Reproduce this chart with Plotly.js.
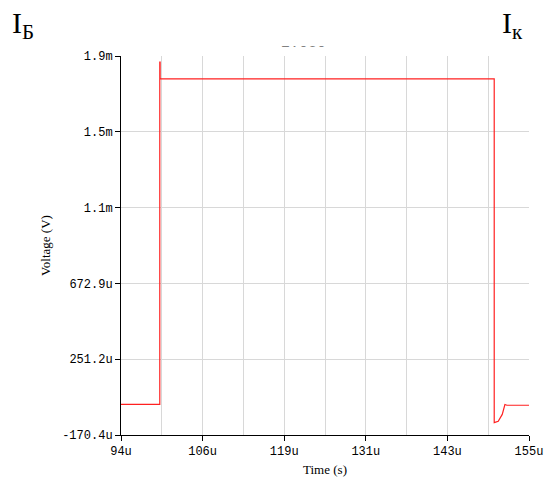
<!DOCTYPE html>
<html>
<head>
<meta charset="utf-8">
<script src="https://cdn.plot.ly/plotly-3.0.1.min.js"></script>
<style>html,body{margin:0;padding:0;background:#fff;}#chart{width:547px;height:486px;}</style>
</head>
<body>
<div id="chart"></div>
<script>
// Time in microseconds, voltage in microvolts
var timeUs = [94, 99.8, 99.8, 99.85, 99.85, 149.8, 149.8, 150.4, 151.0, 151.4, 151.7, 152.5, 155];
var voltUv = [-3, -3, 1867, 1867, 1775, 1775, -103, -95, -58, -4, -8, -8, -8];

var xTickVals = [94, 106.2, 118.4, 130.6, 142.8, 155];
var xTickText = ['94u', '106u', '119u', '131u', '143u', '155u'];
var yTickVals = [-170.4, 243.68, 657.76, 1071.84, 1485.92, 1900];
var yTickText = ['-170.4u', '251.2u', '672.9u', '1.1m', '1.5m', '1.9m'];

var tickFont = {family: 'Liberation Mono, Courier New, monospace', size: 12, color: '#000'};
var serif = 'Liberation Serif, Times New Roman, serif';

var trace = {
  x: timeUs, y: voltUv, type: 'scatter', mode: 'lines',
  line: {color: '#ff2020', width: 1.2}, hoverinfo: 'skip'
};

var layout = {
  width: 547, height: 486,
  margin: {l: 121, r: 18, t: 56, b: 51},
  paper_bgcolor: '#fff', plot_bgcolor: '#fff',
  showlegend: false,
  xaxis: {
    range: [94, 155], tickmode: 'array', tickvals: xTickVals, ticktext: xTickText,
    showline: true, linecolor: '#000', linewidth: 1, ticks: 'outside', ticklen: 5, tickcolor: '#000',
    showgrid: true, gridcolor: '#d8d8d8', gridwidth: 1, zeroline: false,
    minor: {tickmode: 'linear', tick0: 94, dtick: 6.1, showgrid: true, gridcolor: '#d8d8d8', gridwidth: 1, ticks: ''},
    tickfont: tickFont,
    title: {text: 'Time (s)', font: {family: serif, size: 13, color: '#000'}, standoff: 6}
  },
  yaxis: {
    range: [-170.4, 1900], tickmode: 'array', tickvals: yTickVals, ticktext: yTickText,
    showline: true, linecolor: '#000', linewidth: 1, ticks: 'outside', ticklen: 5, tickcolor: '#000',
    showgrid: true, gridcolor: '#d8d8d8', gridwidth: 1, zeroline: false,
    tickfont: tickFont,
    title: {text: 'Voltage (V)', font: {family: serif, size: 13, color: '#000'}, standoff: 8}
  },
  annotations: [
    {xref: 'paper', yref: 'paper', x: 0.448, y: 1.0, yshift: 2, xanchor: 'center', yanchor: 'bottom',
     text: '2.0e0', showarrow: false, font: {family: tickFont.family, size: 15, color: '#000'}},
    {xref: 'paper', yref: 'paper', x: 0.448, y: 1.0, yshift: 9, xanchor: 'center', yanchor: 'bottom',
     text: '&nbsp;', showarrow: false, bgcolor: '#fff', width: 80, height: 18, font: {size: 10}},
    {xref: 'paper', yref: 'paper', x: -0.297, y: 1.0, yshift: 52, xshift: 10, xanchor: 'left', yanchor: 'top',
     text: 'I<sub>Б</sub>', showarrow: false, font: {family: serif, size: 30, color: '#000'}},
    {xref: 'paper', yref: 'paper', x: 0.935, y: 1.0, yshift: 52, xshift: -2, xanchor: 'left', yanchor: 'top',
     text: 'I<sub>к</sub>', showarrow: false, font: {family: serif, size: 30, color: '#000'}}
  ]
};

Plotly.newPlot('chart', [trace], layout, {displayModeBar: false, staticPlot: true});
</script>
</body>
</html>
